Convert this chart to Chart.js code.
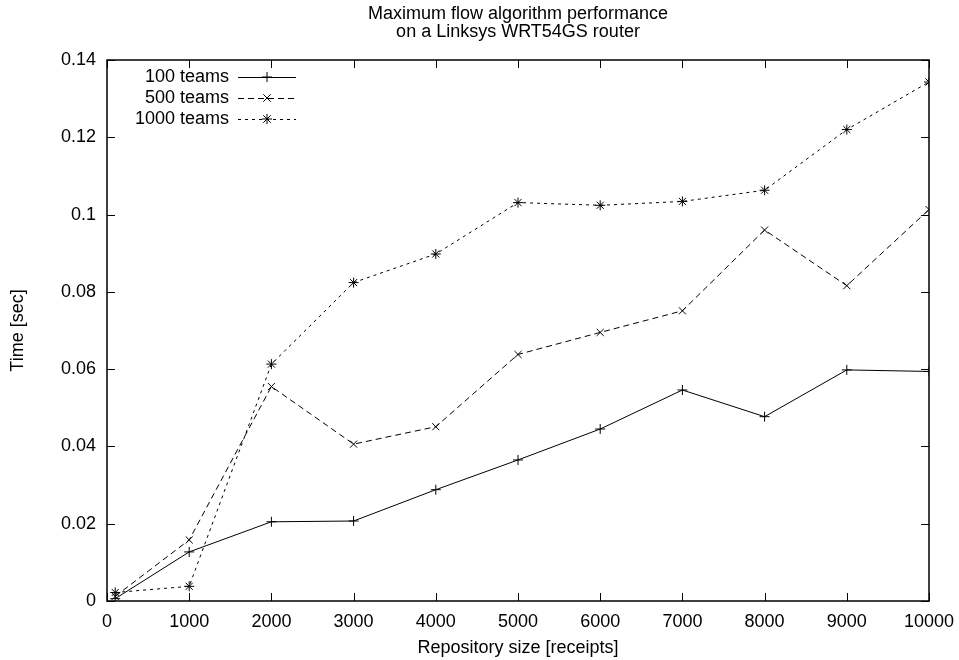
<!DOCTYPE html>
<html>
<head>
<meta charset="utf-8">
<script src="https://cdn.jsdelivr.net/npm/chart.js@4/dist/chart.umd.min.js"></script>
<style>
  html, body { margin: 0; padding: 0; background: #fff; }
  #wrap { width: 959px; height: 660px; }
</style>
</head>
<body>
<div id="wrap"><canvas id="chart"></canvas></div>
<script>
const sizes = [100, 1000, 2000, 3000, 4000, 5000, 6000, 7000, 8000, 9000, 10000];
const teams100 = [0.0006, 0.0127, 0.0205, 0.0207, 0.0288, 0.0365, 0.0445, 0.0546, 0.0477, 0.0598, 0.0594];
const teams500 = [0.0012, 0.0158, 0.0555, 0.0406, 0.0451, 0.0638, 0.0695, 0.0751, 0.0960, 0.0816, 0.1013];
const teams1000 = [0.0022, 0.0038, 0.0613, 0.0824, 0.0898, 0.1031, 0.1024, 0.1034, 0.1063, 0.1220, 0.1343];
const seriesNames = ['100 teams', '500 teams', '1000 teams'];
const xTickLabels = ['0', '1000', '2000', '3000', '4000', '5000', '6000', '7000', '8000', '9000', '10000'];
const yTickLabels = ['0', '0.02', '0.04', '0.06', '0.08', '0.1', '0.12', '0.14'];

const font = 'Liberation Sans, Arial, Helvetica, sans-serif';
const dashes = [[], [6, 4], [3, 4]];
const markers = ['cross', 'crossRot', 'star'];

function toPoints(vals) {
  return sizes.map((s, i) => ({ x: s, y: vals[i] }));
}

function drawMarker(ctx, type, x, y, r) {
  ctx.save();
  ctx.setLineDash([]);
  ctx.lineWidth = 1;
  ctx.beginPath();
  if (type === 'cross' || type === 'star') {
    ctx.moveTo(x - r, y); ctx.lineTo(x + r, y);
    ctx.moveTo(x, y - r); ctx.lineTo(x, y + r);
  }
  if (type === 'crossRot' || type === 'star') {
    const d = r * 0.75;
    ctx.moveTo(x - d, y - d); ctx.lineTo(x + d, y + d);
    ctx.moveTo(x - d, y + d); ctx.lineTo(x + d, y - d);
  }
  ctx.stroke();
  ctx.restore();
}

// gnuplot-like frame: closed box, inward ticks on all sides, key inside top-left
const framePlugin = {
  id: 'frame',
  afterDraw(chart) {
    const ctx = chart.ctx;
    const a = chart.chartArea;
    const xs = chart.scales.x, ys = chart.scales.y;
    ctx.save();
    ctx.strokeStyle = '#000';
    ctx.lineWidth = 1.5;
    ctx.strokeRect(a.left, a.top, a.right - a.left, a.bottom - a.top);
    ctx.lineWidth = 1;
    ctx.beginPath();
    const tl = 8;
    xs.ticks.forEach(t => {
      const px = Math.round(xs.getPixelForValue(t.value)) + 0.5;
      ctx.moveTo(px, a.bottom); ctx.lineTo(px, a.bottom - tl);
      ctx.moveTo(px, a.top); ctx.lineTo(px, a.top + tl);
    });
    ys.ticks.forEach(t => {
      const py = Math.round(ys.getPixelForValue(t.value)) + 0.5;
      ctx.moveTo(a.left, py); ctx.lineTo(a.left + tl, py);
      ctx.moveTo(a.right, py); ctx.lineTo(a.right - tl, py);
    });
    ctx.stroke();

    // title
    ctx.fillStyle = '#000';
    ctx.font = '18px ' + font;
    ctx.textAlign = 'center';
    ctx.textBaseline = 'middle';
    const cx = (a.left + a.right) / 2;
    ctx.fillText('Maximum flow algorithm performance', cx, 14);
    ctx.fillText('on a Linksys WRT54GS router', cx, 32);

    // key
    ctx.textAlign = 'right';
    seriesNames.forEach((name, i) => {
      const y = 77 + i * 21;
      ctx.fillText(name, 229, y);
      ctx.save();
      ctx.setLineDash(dashes[i]);
      ctx.beginPath();
      ctx.moveTo(238, y + 0.5); ctx.lineTo(296, y + 0.5);
      ctx.stroke();
      ctx.restore();
      drawMarker(ctx, markers[i], 267, y, 5);
    });
    ctx.restore();
  }
};

const datasets = [teams100, teams500, teams1000].map((vals, i) => ({
  label: seriesNames[i],
  data: toPoints(vals),
  borderColor: '#000',
  backgroundColor: '#000',
  borderWidth: 1,
  borderDash: dashes[i],
  pointStyle: markers[i],
  pointRadius: 5,
  pointBorderWidth: 1,
  pointBorderColor: '#000',
  tension: 0,
  fill: false
}));

new Chart(document.getElementById('chart'), {
  type: 'line',
  data: { datasets },
  options: {
    responsive: true,
    maintainAspectRatio: false,
    animation: false,
    layout: { padding: { top: 60, right: 30, left: 0, bottom: 0 } },
    plugins: { legend: { display: false }, tooltip: { enabled: false } },
    scales: {
      x: {
        type: 'linear',
        min: 0, max: 10000,
        grid: { display: false, drawTicks: false },
        border: { display: false },
        ticks: {
          stepSize: 1000,
          padding: 10,
          color: '#000',
          font: { family: font, size: 18 },
          maxRotation: 0,
          callback: (v, i) => xTickLabels[i]
        },
        title: {
          display: true,
          text: 'Repository size [receipts]',
          color: '#000',
          font: { family: font, size: 18 },
          padding: { top: 1, bottom: 1 }
        },
        afterFit(s) { s.height = 59; s.paddingLeft = 0; s.paddingRight = 0; }
      },
      y: {
        min: 0, max: 0.14,
        grid: { display: false, drawTicks: false },
        border: { display: false },
        ticks: {
          stepSize: 0.02,
          padding: 11,
          color: '#000',
          font: { family: font, size: 18 },
          callback: (v, i) => yTickLabels[i]
        },
        title: {
          display: true,
          text: 'Time [sec]',
          color: '#000',
          font: { family: font, size: 18 },
          padding: { top: 7 }
        },
        afterFit(s) { s.width = 107; s.paddingTop = 0; s.paddingBottom = 0; }
      }
    }
  },
  plugins: [framePlugin]
});
</script>
</body>
</html>
